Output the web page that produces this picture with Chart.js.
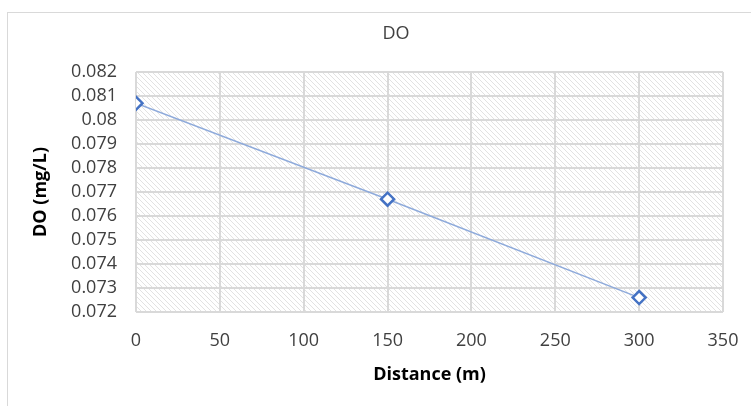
<!DOCTYPE html>
<html>
<head>
<meta charset="utf-8">
<script src="https://cdn.jsdelivr.net/npm/chart.js@4/dist/chart.umd.min.js"></script>
<style>
html,body{margin:0;padding:0;background:#fff;}
#wrap{width:751px;height:406px;}
</style>
</head>
<body>
<div id="wrap"><canvas id="c" width="751" height="406"></canvas></div>
<script>
const distances = [0, 150, 300];
const doValues = [0.0807, 0.0767, 0.0726];
const xTickLabels = ['0','50','100','150','200','250','300','350'];
const yTickLabels = ['0.072','0.073','0.074','0.075','0.076','0.077','0.078','0.079','0.08','0.081','0.082'];
const chartTitle = 'DO';

const FONT = '"Open Sans", "Noto Sans", sans-serif';

function makePattern(ctx){
  const p = document.createElement('canvas');
  p.width = 5; p.height = 5;
  const g = p.getContext('2d');
  g.fillStyle = '#ffffff';
  g.fillRect(0,0,5,5);
  g.strokeStyle = '#e2e2e2';
  g.lineWidth = 1;
  g.beginPath();
  g.moveTo(-1,-1); g.lineTo(6,6);
  g.moveTo(-1,4); g.lineTo(1,6);
  g.moveTo(4,-1); g.lineTo(6,1);
  g.stroke();
  return ctx.createPattern(p,'repeat');
}

const bgPlugin = {
  id:'bg',
  beforeDraw(chart){
    const ctx = chart.ctx;
    ctx.save();
    ctx.fillStyle = '#fff';
    ctx.fillRect(0,0,chart.width,chart.height);
    ctx.strokeStyle = '#d9d9d9';
    ctx.lineWidth = 1;
    ctx.strokeRect(7.5,12.5,chart.width+20,chart.height+20);
    const a = chart.chartArea;
    ctx.fillStyle = makePattern(ctx);
    ctx.fillRect(a.left,a.top,a.right-a.left,a.bottom-a.top);
    ctx.fillStyle = '#404040';
    ctx.font = '18px ' + FONT;
    ctx.textAlign = 'center';
    ctx.textBaseline = 'middle';
    ctx.fillText(chartTitle, 396, 34);
    ctx.restore();
  }
};

new Chart(document.getElementById('c'), {
  type:'scatter',
  data:{
    datasets:[{
      data: distances.map((d,i)=>({x:d,y:doValues[i]})),
      showLine:true,
      borderColor:'#8eaadb',
      borderWidth:1.5,
      pointStyle:'rectRot',
      pointRadius:6.5,
      pointHoverRadius:6.5,
      pointBackgroundColor:'#ffffff',
      pointBorderColor:'#4472c4',
      pointBorderWidth:2.5
    }]
  },
  options:{
    responsive:false,
    animation:false,
    devicePixelRatio:1,
    layout:{padding:{left:8,right:28,top:72,bottom:0}},
    plugins:{
      legend:{display:false},
      tooltip:{enabled:false},
      title:{display:false}
    },
    scales:{
      x:{
        type:'linear',min:0,max:350,
        afterFit(s){s.height=94;s.paddingLeft=0;s.paddingRight=0;},
        ticks:{stepSize:50,autoSkip:false,maxRotation:0,color:'#404040',font:{family:FONT,size:18},padding:18,
          callback:(v,i)=>xTickLabels[i]},
        grid:{color:'#d9d9d9',lineWidth:2,drawTicks:false},
        border:{display:false},
        title:{display:true,text:'Distance (m)',color:'#000',font:{family:FONT,size:18,weight:'bold'},padding:{top:0,bottom:20}}
      },
      y:{
        min:0.072,max:0.082,
        afterFit(s){s.width=128;s.paddingTop=0;s.paddingBottom=0;},
        ticks:{stepSize:0.001,autoSkip:false,color:'#404040',font:{family:FONT,size:18},padding:19,
          callback:(v,i)=>yTickLabels[i]},
        grid:{color:'#d9d9d9',lineWidth:2,drawTicks:false},
        border:{display:false},
        title:{display:true,text:'DO (mg/L)',color:'#000',font:{family:FONT,size:18,weight:'bold'},padding:{top:22,bottom:0}}
      }
    }
  },
  plugins:[bgPlugin]
});
</script>
</body>
</html>
